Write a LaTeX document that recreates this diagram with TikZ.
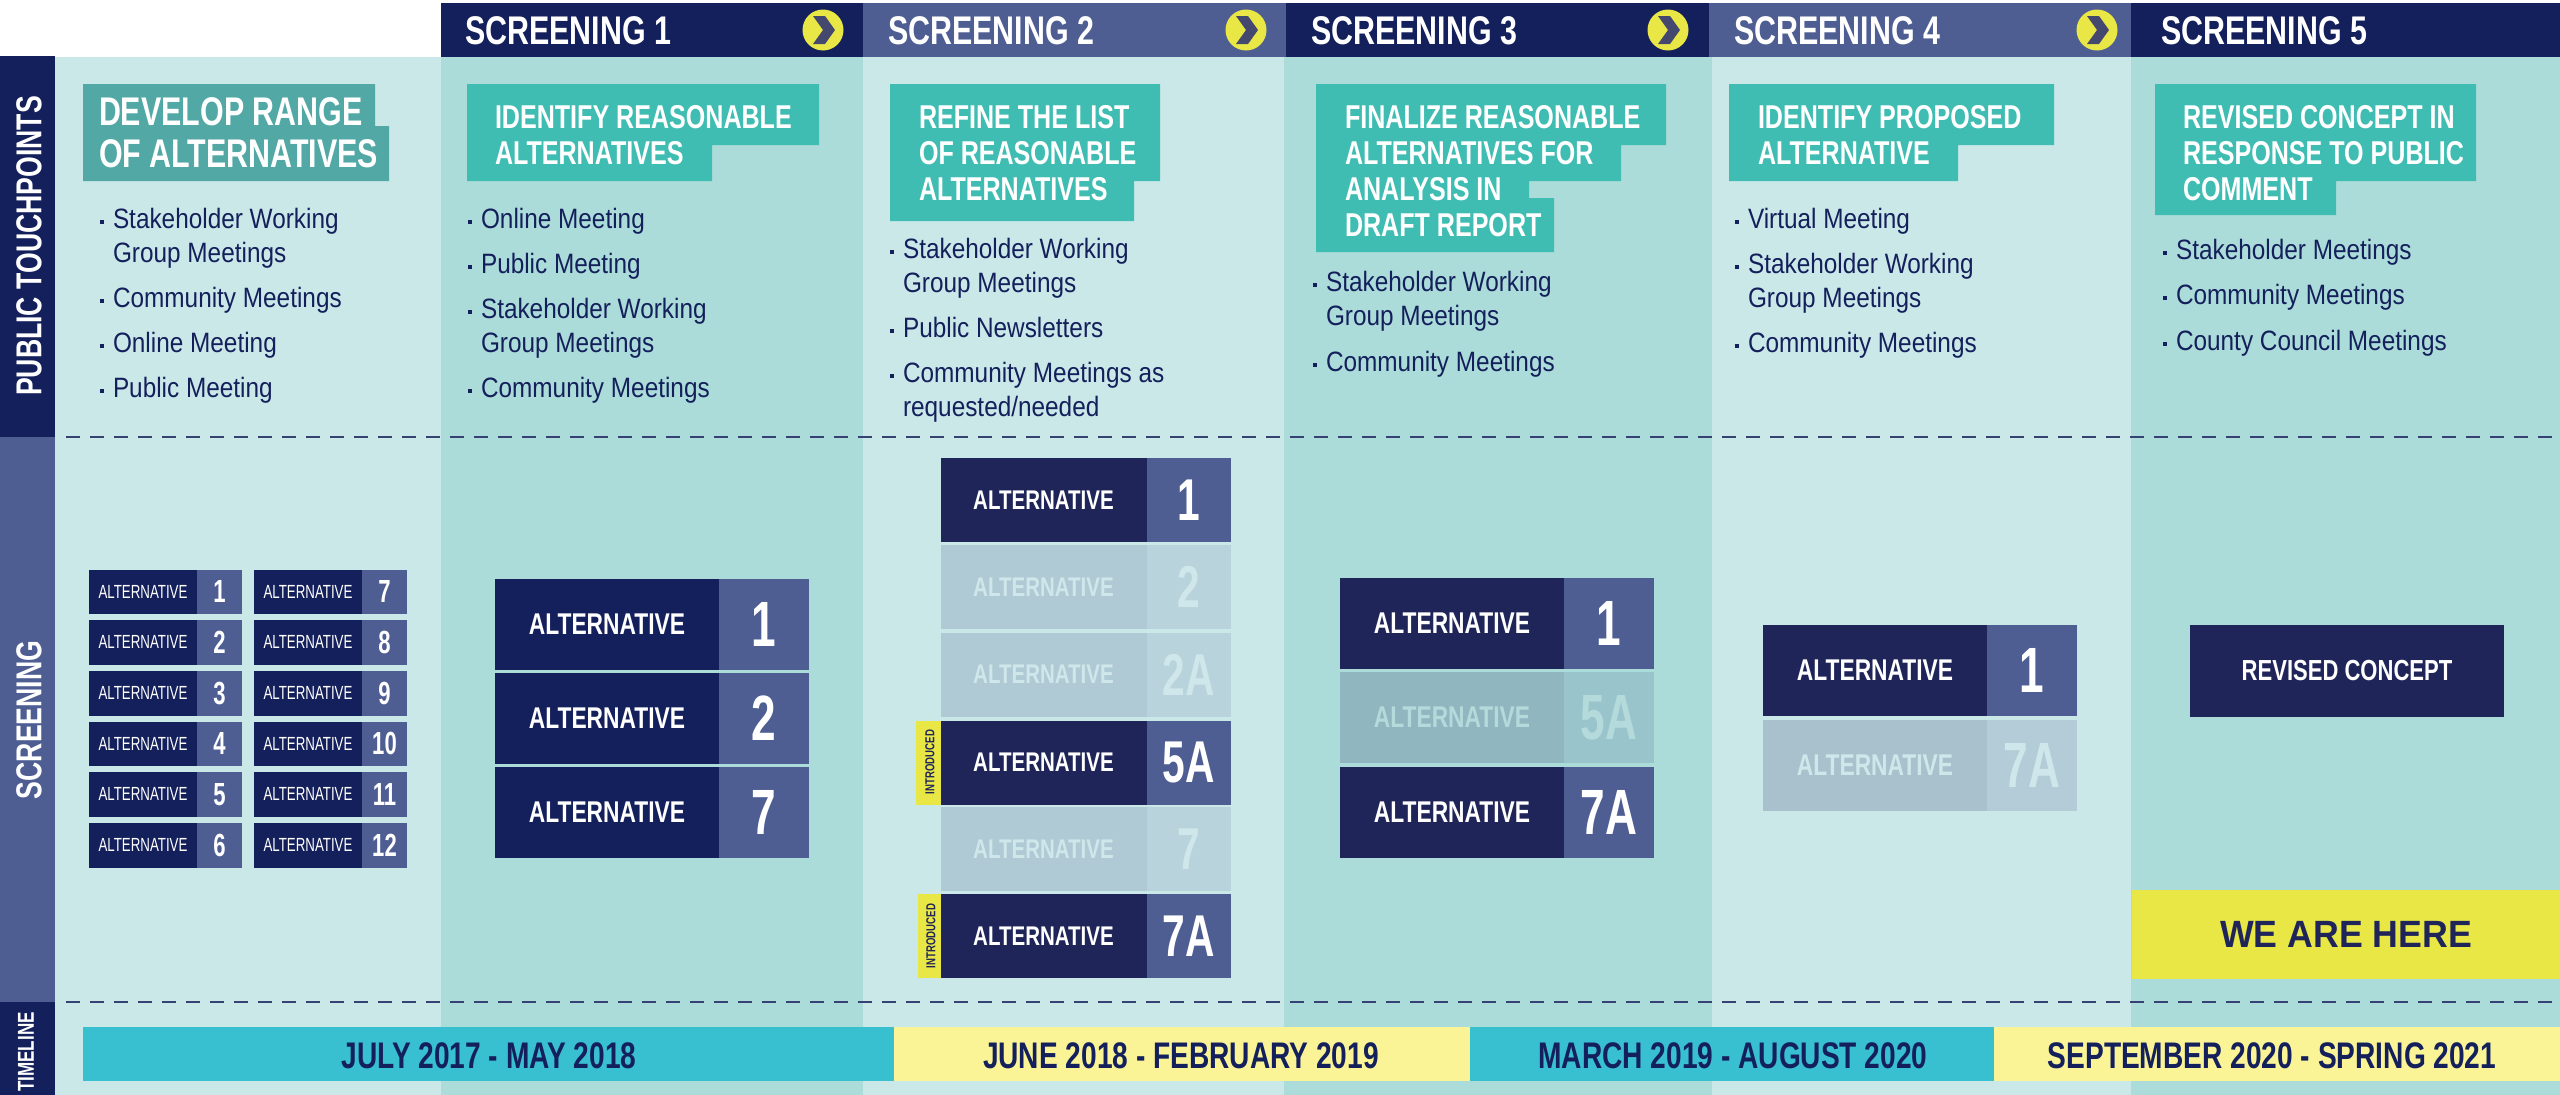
\documentclass[tikz,border=0pt]{standalone}
\usepackage{fontspec}
\usetikzlibrary{positioning}
\newfontfamily\headfont[FakeStretch=0.76]{Liberation Sans}
\newfontfamily\numfont[FakeStretch=0.69]{Liberation Sans}
\newfontfamily\bodyfont[FakeStretch=0.87]{Liberation Sans}
\newfontfamily\sidefont[FakeStretch=0.74]{Liberation Sans}
\newfontfamily\tinyfont[FakeStretch=0.7]{Liberation Sans}
\newfontfamily\herefont[FakeStretch=0.94]{Liberation Sans}
\newcommand{\fs}[1]{\fontsize{#1}{#1}\selectfont}
\newcommand{\itemdot}{\llap{\rule[4.3pt]{4pt}{4pt}\hspace{9pt}}}
\definecolor{navy}{HTML}{14205B}
\definecolor{navyb}{HTML}{1F2558}
\definecolor{slate}{HTML}{4E5E93}
\definecolor{palecol}{HTML}{CBE8E9}
\definecolor{deepcol}{HTML}{ACDCD9}
\definecolor{tealbox}{HTML}{3FBDB2}
\definecolor{greybox}{HTML}{52A8A5}
\definecolor{sunny}{HTML}{E9E745}
\definecolor{cream}{HTML}{FAF497}
\definecolor{aqua}{HTML}{38BFD0}
\definecolor{chevgrey}{HTML}{44486E}
\definecolor{fadetext}{HTML}{CFE7EA}
\definecolor{fadename}{HTML}{AFCAD4}
\definecolor{fadenum}{HTML}{B9D3DC}
\definecolor{duskname}{HTML}{90B6BF}
\definecolor{dusknum}{HTML}{9AC4CC}
\definecolor{dusktext}{HTML}{B5DADB}
\definecolor{mistname}{HTML}{A9C1CC}
\definecolor{mistnum}{HTML}{B4CBD8}
\tikzset{
    every node/.append style={outer sep=0pt},
    band/.style={inner sep=0pt,anchor=north west},
    headtext/.style={anchor=base west,inner sep=0pt,text=white,font=\headfont\bfseries\fs{40}},
    dotmark/.style={circle,fill=sunny,inner sep=0pt,minimum size=41pt},
    sidetext/.style={rotate=90,inner sep=0pt,text=white,font=\sidefont\bfseries\fs{36}},
    titletext/.style={anchor=base west,inner sep=0pt,align=left,text=white,font=\headfont\bfseries\fontsize{33}{36}\selectfont},
    listtext/.style={anchor=base west,inner sep=0pt,align=left,text=navy,font=\bodyfont\fontsize{28}{33.5}\selectfont},
    dashline/.style={navy!85,line width=2pt,dash pattern=on 14pt off 10pt},
    tinyname/.style={anchor=north west,inner sep=0pt,fill=navy,text=white,minimum width=108pt,minimum height=44.5pt,font=\tinyfont\fs{19}},
    tinynum/.style={inner sep=0pt,fill=slate,text=white,minimum width=45pt,minimum height=44.5pt,font=\numfont\bfseries\fs{32}},
    bigname/.style={anchor=north west,inner sep=0pt,fill=navyb,text=white,minimum width=224pt,minimum height=91pt,font=\headfont\bfseries\fs{30}},
    bignum/.style={inner sep=0pt,fill=slate,text=white,minimum width=90pt,minimum height=91pt,font=\numfont\bfseries\fs{64}},
    midname/.style={anchor=north west,inner sep=0pt,fill=navyb,text=white,minimum width=206pt,minimum height=84pt,font=\headfont\bfseries\fs{27}},
    midnum/.style={inner sep=0pt,fill=slate,text=white,minimum width=84pt,minimum height=84pt,font=\numfont\bfseries\fs{59}},
    tagbox/.style={anchor=north west,inner sep=0pt,fill=sunny,minimum width=25pt,minimum height=84pt},
    tagtext/.style={rotate=90,inner sep=0pt,text=navyb,font=\sidefont\bfseries\fs{13}},
    timetext/.style={inner sep=0pt,text=navy,font=\headfont\bfseries\fs{37}},
    timebar/.style={anchor=north west,inner sep=0pt,minimum height=54pt}
}
\begin{document}
\begin{tikzpicture}[x=1pt,y=-1pt]
    \useasboundingbox (0,0) rectangle (2560,1095);
    % columns
    \fill[palecol] (55,57) rectangle (441,1095);
    \fill[deepcol] (441,57) rectangle (863,1095);
    \fill[palecol] (863,57) rectangle (1284,1095);
    \fill[deepcol] (1284,57) rectangle (1712,1095);
    \fill[palecol] (1712,57) rectangle (2131,1095);
    \fill[deepcol] (2131,57) rectangle (2560,1095);
    % header
    \fill[navy] (441,3) rectangle (863,57);
    \fill[slate] (863,3) rectangle (1286,57);
    \fill[navy] (1286,3) rectangle (1709,57);
    \fill[slate] (1709,3) rectangle (2131,57);
    \fill[navy] (2131,3) rectangle (2560,57);
    \node[headtext] (scr1) at (465,44) {SCREENING 1};
    \node[headtext] (scr2) at (888,44) {SCREENING 2};
    \node[headtext] (scr3) at (1311,44) {SCREENING 3};
    \node[headtext] (scr4) at (1734,44) {SCREENING 4};
    \node[headtext] (scr5) at (2161,44) {SCREENING 5};
    \node[dotmark] (dot1) at (823,30) {};
    \node[dotmark] (dot2) at (1246,30) {};
    \node[dotmark] (dot3) at (1668,30) {};
    \node[dotmark] (dot4) at (2097,30) {};
    \fill[chevgrey] (dot1.center) ++(-10,-14) -- ++(12,0) -- ++(10,14) -- ++(-10,14) -- ++(-12,0) -- ++(10,-14) -- cycle;
    \fill[chevgrey] (dot2.center) ++(-10,-14) -- ++(12,0) -- ++(10,14) -- ++(-10,14) -- ++(-12,0) -- ++(10,-14) -- cycle;
    \fill[chevgrey] (dot3.center) ++(-10,-14) -- ++(12,0) -- ++(10,14) -- ++(-10,14) -- ++(-12,0) -- ++(10,-14) -- cycle;
    \fill[chevgrey] (dot4.center) ++(-10,-14) -- ++(12,0) -- ++(10,14) -- ++(-10,14) -- ++(-12,0) -- ++(10,-14) -- cycle;
    % side bars
    \fill[navy] (0,56) rectangle (55,437);
    \fill[slate] (0,437) rectangle (55,1002);
    \fill[navy] (0,1002) rectangle (55,1095);
    \node[sidetext] (sidepub) at (29,246) {PUBLIC TOUCHPOINTS};
    \node[sidetext] (sidescr) at (29,720) {SCREENING};
    \node[sidetext,font=\sidefont\bfseries\fs{23}] (sidetim) at (26,1052) {TIMELINE};
    % dashed rules
    \coordinate (rule1a) at (66,437);
    \coordinate (rule1b) at (2560,437);
    \coordinate (rule2a) at (66,1002);
    \coordinate (rule2b) at (2560,1002);
    \draw[dashline] (rule1a) -- (rule1b);
    \draw[dashline] (rule2a) -- (rule2b);
    % title boxes
    \fill[greybox] (83,84) -- (375,84) -- (375,126) -- (389,126) -- (389,181) -- (83,181) -- cycle;
    \fill[tealbox] (467,84) -- (819,84) -- (819,145) -- (712,145) -- (712,181) -- (467,181) -- cycle;
    \fill[tealbox] (890,84) -- (1160,84) -- (1160,181) -- (1134,181) -- (1134,221) -- (890,221) -- cycle;
    \fill[tealbox] (1316,84) -- (1666,84) -- (1666,145) -- (1621,145) -- (1621,181) -- (1529,181) -- (1529,198) -- (1554,198) -- (1554,252) -- (1316,252) -- cycle;
    \fill[tealbox] (1729,84) -- (2054,84) -- (2054,145) -- (1958,145) -- (1958,181) -- (1729,181) -- cycle;
    \fill[tealbox] (2155,84) -- (2476,84) -- (2476,181) -- (2336,181) -- (2336,215) -- (2155,215) -- cycle;
    \node[titletext,font=\headfont\bfseries\fontsize{40}{42}\selectfont] (goal0) at (99,167) {DEVELOP RANGE\\OF ALTERNATIVES};
    \node[titletext] (goal1) at (495,164) {IDENTIFY REASONABLE\\ALTERNATIVES};
    \node[titletext] (goal2) at (919,200) {REFINE THE LIST\\OF REASONABLE\\ALTERNATIVES};
    \node[titletext] (goal3) at (1345,236) {FINALIZE REASONABLE\\ALTERNATIVES FOR\\ANALYSIS IN\\DRAFT REPORT};
    \node[titletext] (goal4) at (1758,164) {IDENTIFY PROPOSED\\ALTERNATIVE};
    \node[titletext] (goal5) at (2183,200) {REVISED CONCEPT IN\\RESPONSE TO PUBLIC\\COMMENT};
    % lists
    \node[listtext] (l0a) at (113,262) {\itemdot Stakeholder Working\\Group Meetings};
    \node[listtext] (l0b) at (113,307) {\itemdot Community Meetings};
    \node[listtext] (l0c) at (113,352) {\itemdot Online Meeting};
    \node[listtext] (l0d) at (113,397) {\itemdot Public Meeting};
    \node[listtext] (l1a) at (481,228) {\itemdot Online Meeting};
    \node[listtext] (l1b) at (481,273) {\itemdot Public Meeting};
    \node[listtext] (l1c) at (481,352) {\itemdot Stakeholder Working\\Group Meetings};
    \node[listtext] (l1d) at (481,397) {\itemdot Community Meetings};
    \node[listtext] (l2a) at (903,292) {\itemdot Stakeholder Working\\Group Meetings};
    \node[listtext] (l2b) at (903,337) {\itemdot Public Newsletters};
    \node[listtext] (l2c) at (903,416) {\itemdot Community Meetings as\\requested/needed};
    \node[listtext] (l3a) at (1326,325) {\itemdot Stakeholder Working\\Group Meetings};
    \node[listtext] (l3b) at (1326,371) {\itemdot Community Meetings};
    \node[listtext] (l4a) at (1748,228) {\itemdot Virtual Meeting};
    \node[listtext] (l4b) at (1748,307) {\itemdot Stakeholder Working\\Group Meetings};
    \node[listtext] (l4c) at (1748,352) {\itemdot Community Meetings};
    \node[listtext] (l5a) at (2176,259) {\itemdot Stakeholder Meetings};
    \node[listtext] (l5b) at (2176,304) {\itemdot Community Meetings};
    \node[listtext] (l5c) at (2176,350) {\itemdot County Council Meetings};
    % first range
    \node[tinyname] (a1) at (89,569.5) {ALTERNATIVE};
    \node[tinynum,right=0pt of a1] (a1n) {1};
    \node[tinyname] (a2) at (89,620.2) {ALTERNATIVE};
    \node[tinynum,right=0pt of a2] (a2n) {2};
    \node[tinyname] (a3) at (89,671) {ALTERNATIVE};
    \node[tinynum,right=0pt of a3] (a3n) {3};
    \node[tinyname] (a4) at (89,721.5) {ALTERNATIVE};
    \node[tinynum,right=0pt of a4] (a4n) {4};
    \node[tinyname] (a5) at (89,772) {ALTERNATIVE};
    \node[tinynum,right=0pt of a5] (a5n) {5};
    \node[tinyname] (a6) at (89,823) {ALTERNATIVE};
    \node[tinynum,right=0pt of a6] (a6n) {6};
    \node[tinyname] (a7) at (254,569.5) {ALTERNATIVE};
    \node[tinynum,right=0pt of a7] (a7n) {7};
    \node[tinyname] (a8) at (254,620.2) {ALTERNATIVE};
    \node[tinynum,right=0pt of a8] (a8n) {8};
    \node[tinyname] (a9) at (254,671) {ALTERNATIVE};
    \node[tinynum,right=0pt of a9] (a9n) {9};
    \node[tinyname] (a10) at (254,721.5) {ALTERNATIVE};
    \node[tinynum,right=0pt of a10] (a10n) {10};
    \node[tinyname] (a11) at (254,772) {ALTERNATIVE};
    \node[tinynum,right=0pt of a11] (a11n) {11};
    \node[tinyname] (a12) at (254,823) {ALTERNATIVE};
    \node[tinynum,right=0pt of a12] (a12n) {12};
    % screening 1
    \node[bigname,fill=navy] (b1) at (495,578.5) {ALTERNATIVE};
    \node[bignum,right=0pt of b1] (b1n) {1};
    \node[bigname,fill=navy] (b2) at (495,672.5) {ALTERNATIVE};
    \node[bignum,right=0pt of b2] (b2n) {2};
    \node[bigname,fill=navy] (b7) at (495,767) {ALTERNATIVE};
    \node[bignum,right=0pt of b7] (b7n) {7};
    % screening 2
    \node[midname] (c1) at (940.5,458) {ALTERNATIVE};
    \node[midnum,right=0pt of c1] (c1n) {1};
    \node[midname,fill=fadename,text=fadetext] (c2) at (940.5,545) {ALTERNATIVE};
    \node[midnum,fill=fadenum,text=fadetext,right=0pt of c2] (c2n) {2};
    \node[midname,fill=fadename,text=fadetext] (c2a) at (940.5,632.5) {ALTERNATIVE};
    \node[midnum,fill=fadenum,text=fadetext,right=0pt of c2a] (c2an) {2A};
    \node[midname] (c5a) at (940.5,720.5) {ALTERNATIVE};
    \node[midnum,right=0pt of c5a] (c5an) {5A};
    \node[midname,fill=fadename,text=fadetext] (c7) at (940.5,807) {ALTERNATIVE};
    \node[midnum,fill=fadenum,text=fadetext,right=0pt of c7] (c7n) {7};
    \node[midname] (c7a) at (940.5,894) {ALTERNATIVE};
    \node[midnum,right=0pt of c7a] (c7an) {7A};
    \node[tagbox] (tag1) at (916,720.5) {};
    \node[tagtext] (tag1t) at (930,762) {INTRODUCED};
    \node[tagbox,minimum width=23.5pt] (tag2) at (917.5,894) {};
    \node[tagtext] (tag2t) at (931,936) {INTRODUCED};
    % screening 3
    \node[bigname] (d1) at (1340,578) {ALTERNATIVE};
    \node[bignum,right=0pt of d1] (d1n) {1};
    \node[bigname,fill=duskname,text=dusktext] (d5a) at (1340,672) {ALTERNATIVE};
    \node[bignum,fill=dusknum,text=dusktext,right=0pt of d5a] (d5an) {5A};
    \node[bigname] (d7a) at (1340,767) {ALTERNATIVE};
    \node[bignum,right=0pt of d7a] (d7an) {7A};
    % screening 4
    \node[bigname] (e1) at (1763,625) {ALTERNATIVE};
    \node[bignum,right=0pt of e1] (e1n) {1};
    \node[bigname,fill=mistname,text=fadetext] (e7a) at (1763,720) {ALTERNATIVE};
    \node[bignum,fill=mistnum,text=fadetext,right=0pt of e7a] (e7an) {7A};
    % screening 5
    \node[bigname,minimum width=314pt,minimum height=92pt,font=\headfont\bfseries\fs{29}] (concept) at (2190,625) {REVISED CONCEPT};
    \node[band,fill=sunny,text=navyb,font=\herefont\bfseries\fs{38},minimum width=428pt,minimum height=89pt] (here) at (2132,890) {WE ARE HERE};
    % timeline
    \node[timebar,fill=aqua,minimum width=811pt] (span1) at (83,1027) {};
    \node[timebar,fill=cream,minimum width=576pt] (span2) at (894,1027) {};
    \node[timebar,fill=aqua,minimum width=523.5pt] (span3) at (1470,1027) {};
    \node[timebar,fill=cream,minimum width=566.5pt] (span4) at (1993.5,1027) {};
    \node[timetext] (when1) at (489,1056) {JULY 2017 - MAY 2018};
    \node[timetext] (when2) at (1181,1056) {JUNE 2018 - FEBRUARY 2019};
    \node[timetext] (when3) at (1733,1056) {MARCH 2019 - AUGUST 2020};
    \node[timetext] (when4) at (2272,1056) {SEPTEMBER 2020 - SPRING 2021};
\end{tikzpicture}
\end{document}
